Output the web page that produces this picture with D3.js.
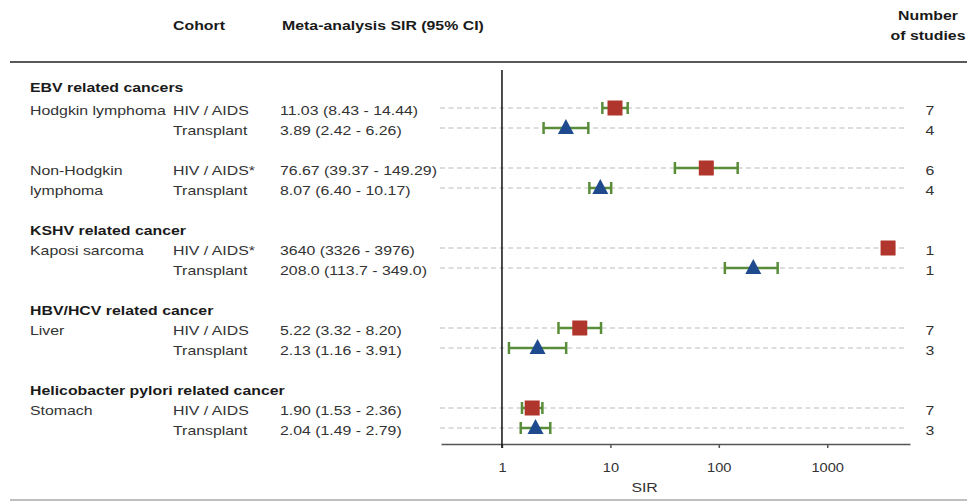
<!DOCTYPE html>
<html>
<head>
<meta charset="utf-8">
<script src="https://cdn.jsdelivr.net/npm/d3@7"></script>
<style>
  body { margin: 0; background: #fff; }
  text { font-family: "Liberation Sans", Arial, sans-serif; }
</style>
</head>
<body>
<div class="chart"></div>
<script>
// data
var groups = ["EBV related cancers", "KSHV related cancer", "HBV/HCV related cancer", "Helicobacter pylori related cancer"];
var cancers = ["Hodgkin lymphoma", "Non-Hodgkin\nlymphoma", "Kaposi sarcoma", "Liver", "Stomach"];
var cancerGroup = [0, 0, 1, 2, 3];
var cohorts = ["HIV / AIDS", "Transplant"];

var hivSIR = [11.03, 76.67, 3640, 5.22, 1.90];
var hivLo = [8.43, 39.37, 3326, 3.32, 1.53];
var hivHi = [14.44, 149.29, 3976, 8.20, 2.36];
var hivDigits = [2, 2, 0, 2, 2];
var hivStar = [false, true, true, false, false];
var hivStudies = [7, 6, 1, 7, 7];

var transSIR = [3.89, 8.07, 208.0, 2.13, 2.04];
var transLo = [2.42, 6.40, 113.7, 1.16, 1.49];
var transHi = [6.26, 10.17, 349.0, 3.91, 2.79];
var transDigits = [2, 2, 1, 2, 2];
var transStudies = [4, 4, 1, 3, 3];

var xTicks = [1, 10, 100, 1000];

var width = 967, height = 501;
var rowH = 20, firstRow = 108;
var sx = 1.22; // the source picture is stretched sideways

var svg = d3.select(".chart").append("svg")
    .attr("width", width)
    .attr("height", height);

function txt(x, y, s, opt) {
    opt = opt || {};
    return svg.append("text")
        .attr("transform", "translate(" + x + "," + y + ") scale(" + sx + ",1)")
        .attr("text-anchor", opt.anchor || "start")
        .attr("font-size", opt.size || 13)
        .attr("font-weight", opt.bold ? "bold" : "normal")
        .attr("fill", opt.color || (opt.bold ? "#1a1a1a" : "#333"))
        .text(s);
}

// build rows: header, then pairs of cohorts, blank line between cancers
var rows = [];
var r = -1, lastGroup = -1;
for (var i = 0; i < cancers.length; i++) {
    if (cancerGroup[i] != lastGroup) {
        rows.push({type: "group", name: groups[cancerGroup[i]], row: r});
        lastGroup = cancerGroup[i];
        r++;
    }
    var names = cancers[i].split("\n");
    rows.push({type: "item", cohort: 0, cancer: names[0], sir: hivSIR[i], lo: hivLo[i], hi: hivHi[i],
               digits: hivDigits[i], star: hivStar[i], n: hivStudies[i], row: r});
    rows.push({type: "item", cohort: 1, cancer: names[1] || "", sir: transSIR[i], lo: transLo[i], hi: transHi[i],
               digits: transDigits[i], star: false, n: transStudies[i], row: r + 1});
    r += 3;
}

var y = d3.scaleLinear().domain([0, 1]).range([firstRow, firstRow + rowH]);
var x = d3.scaleLog().domain([0.274, 5800]).range([441, 910]);

// header
txt(173, 30, "Cohort", {bold: true});
txt(282, 30, "Meta-analysis SIR (95% CI)", {bold: true});
txt(928, 20, "Number", {bold: true, anchor: "middle"});
txt(928, 40, "of studies", {bold: true, anchor: "middle"});

svg.append("line").attr("x1", 10).attr("x2", width).attr("y1", 62).attr("y2", 62)
    .attr("stroke", "#222").attr("stroke-width", 1.5);
svg.append("line").attr("x1", 10).attr("x2", width).attr("y1", 500).attr("y2", 500)
    .attr("stroke", "#aaa").attr("stroke-width", 1.5);

// dashed guide lines
var items = rows.filter(function(d) { return d.type == "item"; });
svg.selectAll("line.guide").data(items).enter().append("line")
    .attr("class", "guide")
    .attr("x1", 440).attr("x2", 907)
    .attr("y1", function(d) { return y(d.row); })
    .attr("y2", function(d) { return y(d.row); })
    .attr("stroke", "#bbb").attr("stroke-width", 1)
    .attr("stroke-dasharray", "5,3.5");

// axis
var axis = svg.append("g")
    .attr("transform", "translate(0,444)")
    .call(d3.axisBottom(x).tickValues(xTicks).tickFormat(d3.format("d")).tickSize(4).tickSizeOuter(0));
axis.select(".domain").attr("stroke", "#555").attr("stroke-width", 1.5);
axis.selectAll(".tick line").attr("stroke", "#555").attr("stroke-width", 1.5);
axis.selectAll(".tick text")
    .attr("y", 19)
    .attr("transform", "scale(" + sx + ",1)")
    .attr("font-size", 12)
    .attr("font-family", "Liberation Sans, Arial, sans-serif")
    .attr("fill", "#333");
txt(x(1) + (x(1000) - x(1)) / 2 - 20, 492, "SIR", {anchor: "middle"});

// reference line at SIR = 1
svg.append("line").attr("x1", x(1)).attr("x2", x(1)).attr("y1", 70).attr("y2", 448)
    .attr("stroke", "#111").attr("stroke-width", 1.5);

// labels
rows.forEach(function(d) {
    var yy = y(d.row) + 6.5;
    if (d.type == "group") {
        txt(30, yy - (d.row < 0 ? 3 : 0), d.name, {bold: true});
        return;
    }
    if (d.cancer) txt(30, yy, d.cancer);
    txt(173, yy, cohorts[d.cohort] + (d.star ? "*" : ""));
    var f = d3.format("." + d.digits + "f");
    txt(280, yy, f(d.sir) + " (" + f(d.lo) + " - " + f(d.hi) + ")");
    txt(930, yy, d.n, {anchor: "middle", color: "#333"});
});

// confidence intervals
var green = "#5a8d3a";
var ci = svg.selectAll("g.ci").data(items).enter().append("g").attr("class", "ci");
ci.append("line")
    .attr("x1", function(d) { return x(d.lo); })
    .attr("x2", function(d) { return x(d.hi); })
    .attr("y1", function(d) { return y(d.row); })
    .attr("y2", function(d) { return y(d.row); })
    .attr("stroke", green).attr("stroke-width", 2.5);
[["lo"], ["hi"]].forEach(function(k) {
    ci.append("line")
        .attr("x1", function(d) { return x(d[k[0]]); })
        .attr("x2", function(d) { return x(d[k[0]]); })
        .attr("y1", function(d) { return y(d.row) - 6; })
        .attr("y2", function(d) { return y(d.row) + 6; })
        .attr("stroke", green).attr("stroke-width", 2.5);
});

// point estimates
svg.selectAll("rect.hiv").data(items.filter(function(d) { return d.cohort == 0; }))
    .enter().append("rect").attr("class", "hiv")
    .attr("x", function(d) { return x(d.sir) - 7.5; })
    .attr("y", function(d) { return y(d.row) - 7.5; })
    .attr("width", 15).attr("height", 15)
    .attr("fill", "#b0362d");

svg.selectAll("path.tx").data(items.filter(function(d) { return d.cohort == 1; }))
    .enter().append("path").attr("class", "tx")
    .attr("d", function(d) {
        var cx = x(d.sir), cy = y(d.row);
        return "M" + (cx - 8) + "," + (cy + 6) + "L" + (cx + 8) + "," + (cy + 6) + "L" + cx + "," + (cy - 9) + "Z";
    })
    .attr("fill", "#1f4b8e");
</script>
</body>
</html>
